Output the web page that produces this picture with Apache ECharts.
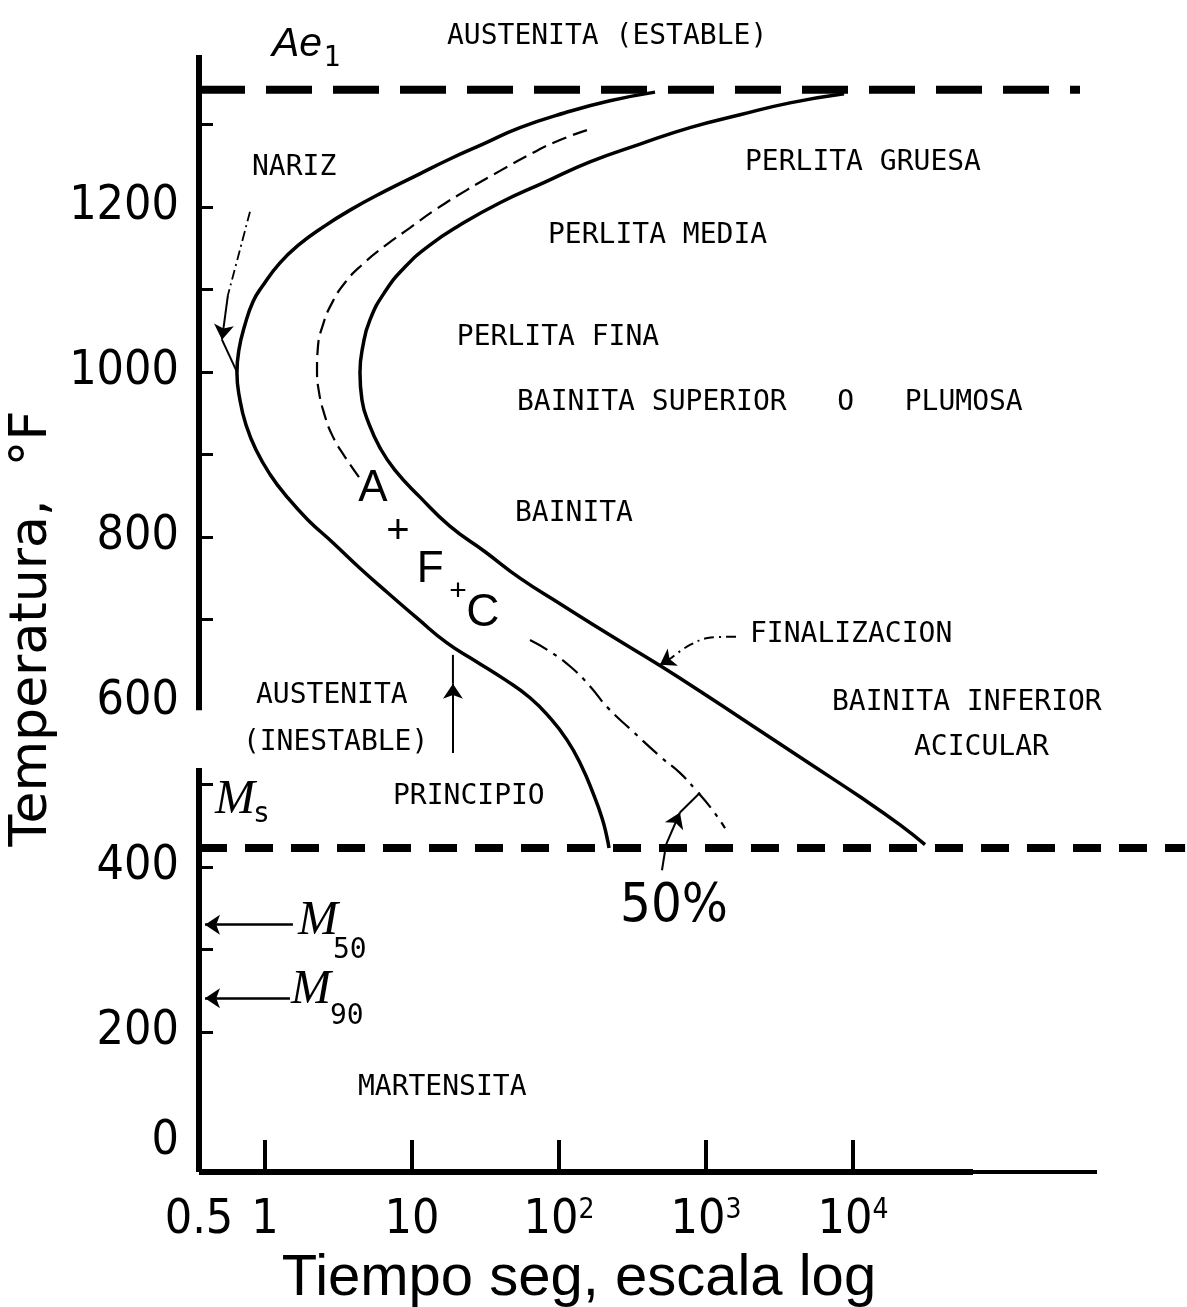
<!DOCTYPE html>
<html>
<head>
<meta charset="utf-8">
<script src="https://cdn.jsdelivr.net/npm/echarts@6/dist/echarts.min.js"></script>
<style>
html,body{margin:0;padding:0;background:#fff;}
#c{width:1187px;height:1307px;}
</style>
</head>
<body>
<div id="c"></div>
<script>
// ---------- axis ticks and labels ----------
const xTickValues = [1, 10, 100, 1000, 10000];
const xLabelValues = [0.356, 1, 10, 100, 1000, 10000];
const xLabelTexts = ['0.5', '1', '10', '10{sup|2}', '10{sup|3}', '10{sup|4}'];
const yTickValues = [1300, 1200, 1100, 1000, 900, 800, 700, 500, 400, 300, 200];
const yLabelValues = [1200, 1000, 800, 600, 400, 200, 67];
const yLabelTexts = ['1200', '1000', '800', '600', '400', '200', '0'];

// ---------- characteristic temperatures (°F) ----------
const ae1Temp = 1342;
const msTemp = 423;
const m50Temp = 330;
const m90Temp = 241;

// ---------- transformation curves [time s, temperature °F] ----------
const startCurve = [[450,1339],[222,1328.5],[109.9,1314],[54.3,1296],[30.4,1276],[18.1,1258],[11.3,1240],[6.55,1219],[3.79,1196],[2.44,1174.5],[1.73,1155],[1.265,1132],[0.954,1103],[0.829,1085],[0.731,1057],[0.666,1027],[0.645,999],[0.676,966],[0.743,936],[0.869,905.5],[1.081,876],[1.412,848.5],[1.961,820.6],[2.9,793],[4.43,762],[6.87,732],[10.99,700.6],[17.3,671.5],[26.8,650],[42.9,627],[63.5,605],[86.9,580.6],[113.3,554],[141.2,523.6],[170,490],[196.2,459.4],[212,436],[219,423]];
const halfCurveUpper = [[155,1293],[101.6,1281],[66.5,1265.5],[39.7,1243.6],[23.7,1220.6],[14.3,1196],[9.69,1174.5],[6.55,1152.7],[4.57,1129.7],[3.5,1108],[2.86,1083.6],[2.48,1057],[2.29,1029],[2.26,1002.4],[2.33,975.8],[2.52,950.3],[2.86,923.6],[3.5,897],[4.5,869]];
const halfCurveLower = [[63.5,675],[86.9,661],[121,642],[162.5,619],[212,594],[319,564],[494,533],[665,514],[855,493],[1081,471.5],[1347,447]];
const finishCurve = [[8690,1337],[3726,1326],[1703,1311.5],[778,1296],[356,1276],[162.5,1254.5],[80.3,1230],[39.7,1205],[21.2,1178],[13.3,1154],[8.96,1127],[6.55,1097],[5.18,1063],[4.64,1031.5],[4.43,999],[4.57,966],[5.1,937],[6.06,908],[7.66,881],[11.3,848.5],[18.1,813],[31.4,782],[54.3,750],[101.6,719],[222,681],[486,644],[1065,605],[2330,565],[5097,525],[11160,485],[20900,451],[30900,427]];

// ---------- text ----------
const regionLabels = ['AUSTENITA (ESTABLE)','NARIZ','PERLITA GRUESA','PERLITA MEDIA','PERLITA FINA','BAINITA SUPERIOR   O   PLUMOSA','BAINITA','FINALIZACION','BAINITA INFERIOR','ACICULAR','AUSTENITA','(INESTABLE)','PRINCIPIO','MARTENSITA'];
const phaseLetters = ['A', '+', 'F', '+', 'C'];
const percentLabel = '50%';
const axisTitleX = 'Tiempo seg, escala log';
const axisTitleY = 'Temperatura,  °F';

// ---------- layout (positions in data coordinates) ----------
const X_MIN = 0.356, X_MAX = 1841000, Y_MIN = 30.3, Y_MAX = 1384;
const X_THICK_END = 65500, X_AXIS_EXT = 457000, AE1_END = 350000, MS_END = 1815000;
const SPINE_GAP_TOP = 590, SPINE_GAP_BOTTOM = 520;
const regionLabelPos = [[17.3,1406],[0.816,1247],[1841,1254],[84.2,1165],[20.2,1041],[51.8,962],[50.2,828],[1991,682],[7195,599],[26000,544],[0.869,608],[0.708,551],[7.43,485],[4.29,133]];
const phaseLetterPos = [[5.43,858],[8.03,806],[13.3,760],[20.6,733],[30.4,707]];
const phaseLetterSize = [44, 40, 44, 30, 46];
const percentPos = [606, 351];
const narizLeader = [[0.791,1194],[0.676,1148],[0.56,1093]];
const narizArrow = [[0.56,1093],[0.51,1039]];
const narizTail = [[0.51,1039],[0.645,1000]];
const principioArrow = [[19.0,538],[19.0,622]];
const principioTail = [[19.0,622],[19.0,657]];
const halfLeader = [[502,396],[535,427]];
const halfArrow = [[535,427],[665,466]];
const halfTail = [[665,466],[910,490]];
const finLeader = [[1600,679],[1081,678],[778,669],[578,653]];
const finArrow = [[578,653],[486,645]];
const m50Arrow = [[1.55,m50Temp],[0.391,m50Temp]];
const m90Arrow = [[1.48,m90Temp],[0.391,m90Temp]];

const NARROW = "'Liberation Sans Narrow', 'Arial Narrow', 'DejaVu Sans Condensed', 'Liberation Sans', sans-serif";
const SANS = "'Liberation Sans', Arial, sans-serif";
const WIDE = "'DejaVu Sans', 'Liberation Sans', sans-serif";
const MONO = "'DejaVu Sans Mono', 'Liberation Mono', monospace";
const SERIF = "'Liberation Serif', 'DejaVu Serif', serif";
const INK = '#000000';

function near(a, b) { return Math.abs(a - b) <= Math.abs(b) * 1e-3 + 1e-9; }

function lineSeries(data, width, type, smooth) {
  return {
    type: 'line', data: data, showSymbol: false, symbol: 'none', clip: false, silent: true,
    smooth: smooth || false, z: 3,
    lineStyle: { color: INK, width: width, type: type || 'solid', cap: 'butt', opacity: 1 }
  };
}
function arrowSeries(segs, width, type) {
  return {
    type: 'lines', coordinateSystem: 'cartesian2d', silent: true, z: 4,
    symbol: ['none', 'arrow'], symbolSize: [0, 15],
    itemStyle: { color: INK, opacity: 1 },
    lineStyle: { color: INK, width: width, type: type || 'solid', opacity: 1, curveness: 0 },
    data: segs.map(s => ({ coords: s }))
  };
}
function textSeries(items, style, pos) {
  return {
    type: 'scatter', clip: false, silent: true, symbolSize: 0, z: 5,
    itemStyle: { color: 'rgba(0,0,0,0)', opacity: 1 },
    data: items,
    label: Object.assign({ show: true, position: pos || 'right', distance: 0, formatter: '{b}', color: INK, opacity: 1 }, style)
  };
}

const chart = echarts.init(document.getElementById('c'));
chart.setOption({
  animation: false,
  backgroundColor: '#ffffff',
  grid: { left: 199, right: 1, top: 55, bottom: 135, containLabel: false, outerBoundsMode: 'none' },
  xAxis: {
    type: 'log', logBase: 10, min: X_MIN, max: X_MAX,
    name: axisTitleX, nameLocation: 'middle', nameGap: 56,
    nameTextStyle: { fontFamily: SANS, fontSize: 58, color: INK, padding: [0, 227, 0, 0] },
    axisLine: { show: false, onZero: false },
    axisTick: { show: true, inside: true, length: 32, customValues: xTickValues, lineStyle: { color: INK, width: 4 } },
    axisLabel: {
      show: true, customValues: xLabelValues, margin: 25,
      fontFamily: NARROW, fontSize: 48, color: INK,
      formatter: function (v) {
        for (let i = 0; i < xLabelValues.length; i++) if (near(v, xLabelValues[i])) return xLabelTexts[i];
        return '';
      },
      rich: { sup: { fontFamily: NARROW, fontSize: 28, color: INK, verticalAlign: 'top', lineHeight: 28 } }
    },
    splitLine: { show: false }
  },
  yAxis: {
    type: 'value', min: Y_MIN, max: Y_MAX,
    name: axisTitleY, nameLocation: 'middle', nameGap: 122, nameRotate: 90,
    nameTextStyle: { fontFamily: WIDE, fontSize: 52, color: INK, padding: [0, 30, 0, 0] },
    axisLine: { show: false, onZero: false },
    axisTick: { show: true, inside: true, length: 14, customValues: yTickValues, lineStyle: { color: INK, width: 3 } },
    axisLabel: {
      show: true, customValues: yLabelValues, margin: 20,
      fontFamily: NARROW, fontSize: 48, color: INK,
      formatter: function (v) {
        for (let i = 0; i < yLabelValues.length; i++) if (near(v, yLabelValues[i])) return yLabelTexts[i];
        return '';
      }
    },
    splitLine: { show: false }
  },
  series: [
    // broken temperature-axis spine
    lineSeries([[X_MIN, Y_MAX], [X_MIN, SPINE_GAP_TOP]], 6),
    lineSeries([[X_MIN, SPINE_GAP_BOTTOM], [X_MIN, Y_MIN]], 6),
    // time axis: thick part then thin extension
    lineSeries([[X_MIN, Y_MIN], [X_THICK_END, Y_MIN]], 6),
    lineSeries([[X_THICK_END, Y_MIN], [X_AXIS_EXT, Y_MIN]], 4),
    // Ae1 and Ms
    lineSeries([[X_MIN, ae1Temp], [AE1_END, ae1Temp]], 8, [46, 21]),
    lineSeries([[X_MIN, msTemp], [MS_END, msTemp]], 8, [28, 18]),
    // curves
    lineSeries(startCurve, 3.5, 'solid', 0.5),
    lineSeries(halfCurveUpper, 2.2, [15, 7], 0.5),
    lineSeries(halfCurveLower, 2.2, [20, 7, 4, 7], 0.5),
    lineSeries(finishCurve, 3.5, 'solid', 0.5),
    // leaders
    lineSeries(narizLeader, 1.8, [10, 4, 2, 4], 0.4),
    lineSeries(narizTail, 2),
    lineSeries(principioTail, 2),
    lineSeries(halfLeader, 2),
    lineSeries(halfTail, 2),
    lineSeries(finLeader, 2, [10, 5, 2, 5], 0.4),
    arrowSeries([narizArrow, principioArrow, halfArrow, finArrow], 2),
    arrowSeries([m50Arrow, m90Arrow], 2.5),
    // region texts
    textSeries(regionLabels.map((s, i) => ({ name: s, value: regionLabelPos[i] })),
      { fontFamily: MONO, fontSize: 28 }),
    // A + F + C
    {
      type: 'scatter', clip: false, silent: true, symbolSize: 0, z: 5,
      itemStyle: { color: 'rgba(0,0,0,0)', opacity: 1 },
      data: phaseLetters.map((s, i) => ({ name: s, value: phaseLetterPos[i],
        label: { fontSize: phaseLetterSize[i] } })),
      label: { show: true, position: 'inside', formatter: '{b}', fontFamily: SANS, color: INK }
    },
    textSeries([{ name: percentLabel, value: percentPos }], { fontFamily: NARROW, fontSize: 54 }, 'inside'),
    // Ae1 / Ms / M50 / M90 symbols
    textSeries([{ name: 'Ae', value: [1.116, 1397] }], { fontFamily: SANS, fontStyle: 'italic', fontSize: 41 }),
    textSeries([{ name: 'M', value: [0.457, 481] }, { name: 'M', value: [1.677, 334] }, { name: 'M', value: [1.503, 251] }],
      { fontFamily: SERIF, fontStyle: 'italic', fontSize: 48 }),
    textSeries([{ name: '1', value: [2.5, 1380] }, { name: 's', value: [0.829, 463] }, { name: '50', value: [2.9, 298] }, { name: '90', value: [2.77, 218] }],
      { fontFamily: MONO, fontSize: 28 })
  ]
});
</script>
</body>
</html>
